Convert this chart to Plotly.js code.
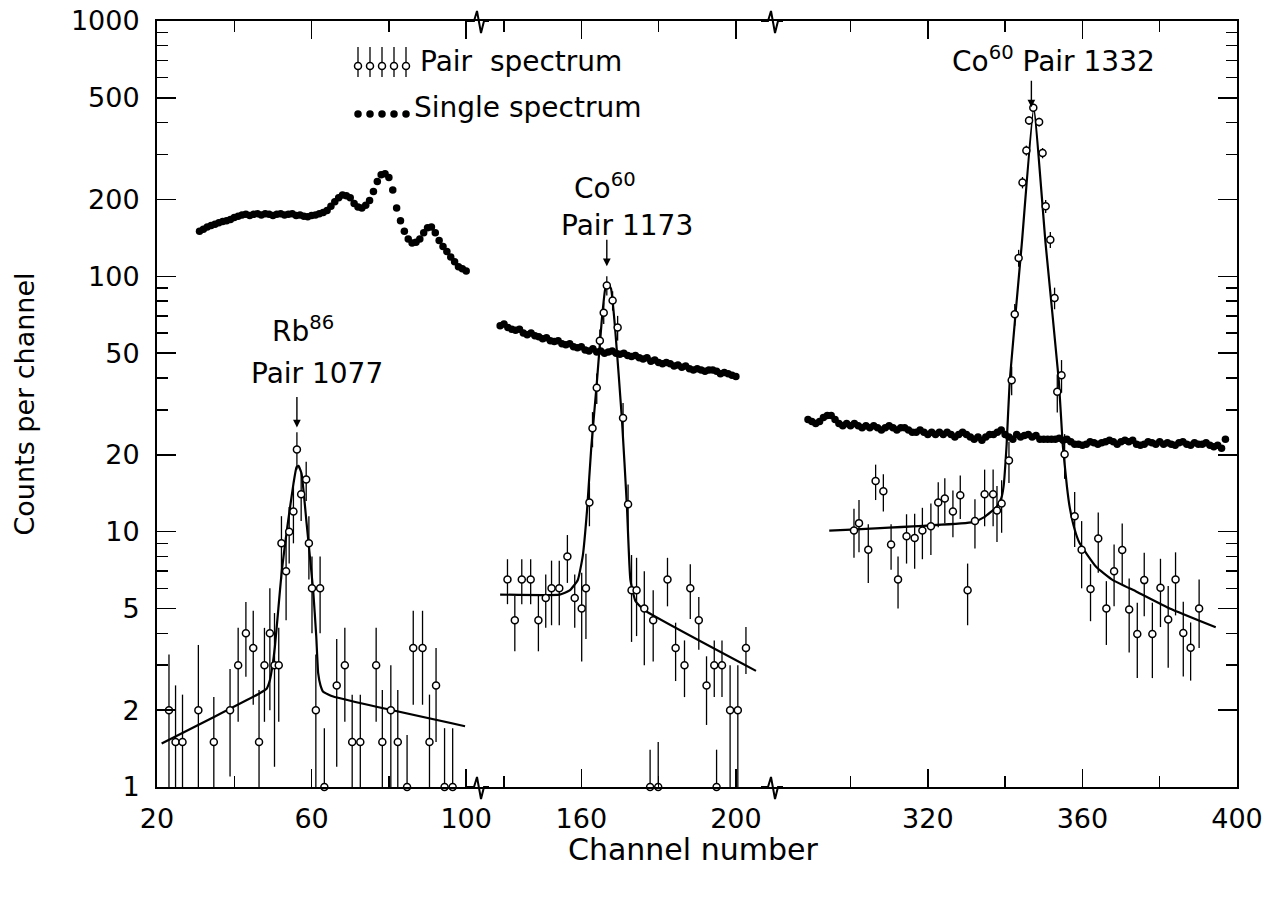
<!DOCTYPE html>
<html><head><meta charset="utf-8">
<script src="https://cdn.plot.ly/plotly-3.0.1.min.js"></script>
<style>html,body{margin:0;padding:0;background:#fff;} #chart{width:1286px;height:898px;}</style>
</head><body><div id="chart"></div>
<script>
// ---------------- DATA ----------------
// Panel 1 (Rb86, pair 1077)
const rbPairX = [23.1,24.8,26.6,30.7,34.7,38.9,41.0,43.0,44.9,46.4,47.8,49.2,50.4,51.5,52.2,53.4,54.2,55.3,56.2,57.3,58.6,59.3,60.1,61.1,62.2,66.5,68.6,70.5,72.6,76.7,78.3,80.5,82.3,86.3,88.7,90.5,92.2];
const rbPairY = [2.0,1.5,1.5,2.0,1.5,2.0,3.0,4.0,3.5,1.5,3.0,4.0,3.0,3.0,9.0,7.0,10.0,12.0,21.0,14.0,16.0,9.0,6.0,2.0,6.0,2.5,3.0,1.5,1.5,3.0,1.5,2.0,1.5,3.5,3.5,1.5,2.5];
const rbPairErr = [1.3,1.0,0.8,1.6,0.75,0.9,1.2,1.3,1.4,0.9,1.2,2.0,1.8,1.2,2.5,2.5,2.5,3.0,3.5,3.0,2.8,2.5,2.0,1.3,2.0,1.3,1.2,0.8,0.8,1.2,0.9,1.0,0.9,1.4,1.4,0.8,1.0];
const rbFloorX = [63.3,84.7,94.4,96.5];
const rbFloorY = [1,1,1,1];
const rbFloorErr = [0.7,0.6,0.7,0.7];
const rbFitX = [21.2,35,46.6,48.3,49.2,49.9,50.5,51.4,52.3,53.7,55.3,56.1,56.6,57.4,58.7,60.4,61.2,61.7,62.3,63.0,65.6,99.7];
const rbFitY = [1.48,1.89,2.33,2.42,2.62,3.0,3.54,5.0,7.06,10.4,15.4,17.9,18.1,16.9,10.8,5.9,3.9,2.79,2.5,2.36,2.26,1.73];
const rbSingleStart = 31;
const rbSingleY = [150,153,156,158,160,162,164,165,167,170,
  172,174,175,173,175,176,174,176,175,173,
  175,176,174,175,176,173,174,172,171,173,
  174,176,178,181,188,196,203,208,207,203,
  193,187,185,190,198,215,235,250,252,244,
  218,185,165,150,140,135,136,140,148,155,
  156,148,138,131,125,119,114,109,107,105];

// Panel 2 (Co60, pair 1173)
const coAPairX = [140.9,142.8,144.6,146.9,148.9,150.8,152.3,154.3,156.4,158.3,160.1,161.2,162.1,162.9,164.0,164.8,165.8,166.6,168.1,169.4,170.8,172.1,173.0,174.3,176.3,178.6,182.3,184.4,186.7,188.2,190.4,192.4,194.4,196.4,198.5,200.5,202.6];
const coAPairY = [6.5,4.5,6.5,6.5,4.5,5.5,6.0,6.0,8.0,5.5,5.0,6.0,13.0,25.4,36.6,55.9,72.0,92.1,80.4,63.0,27.9,12.8,5.9,5.9,5.0,4.5,6.5,3.5,3.0,6.0,4.5,2.5,3.0,3.0,2.0,2.0,3.5];
const coAPairErr = [1.3,1.1,1.3,1.3,1.1,1.3,1.7,1.7,1.7,1.3,1.9,2.2,2.5,4,5,6,7,8,7,7,4,2.5,2.2,2.0,2.0,1.4,1.4,0.9,0.75,1.45,1.05,0.75,0.75,0.75,1.0,1.0,0.73];
const coAFloorX = [177.8,179.9,195.0];
const coAFloorY = [1,1,1];
const coAFloorErr = [0.4,0.5,0.4];
const coAFitX = [139.0,154.4,157.0,159.1,160.4,161.5,162.6,164.0,165.3,166.2,166.9,167.7,168.8,170.5,171.8,172.7,174.0,176.1,205.2];
const coAFitY = [5.67,5.67,5.89,6.47,8.08,12.2,21.6,38,67.4,89.4,93.7,89.4,61.2,27.7,12.6,6.47,5.35,4.95,2.85];
const coASingleStart = 139;
const coASingleY = [64,65,63,62,61.5,62,60,59,60,58.5,
  58,57,57.5,56,55.5,56,54.5,54,54.5,53,
  52.5,53,51.5,51,52,50.5,51,50,50.5,51,
  50,49.5,50,49,48.5,49,48,47.5,48,46.5,
  47,46,45.5,46,45.5,44.5,45,44,44.5,43.5,
  43,43.5,43,42.5,43,43,42.5,41.5,42,41.5,
  41,40.5];

// Panel 3 (Co60, pair 1332)
const coBPairX = [300.9,302.2,304.6,306.5,308.5,310.5,312.3,314.5,316.6,318.6,320.8,322.7,324.4,326.5,328.4,330.3,332.2,334.7,336.9,337.9,339.1,341.0,341.7,342.5,343.5,344.5,345.5,346.2,347.3,348.8,349.7,350.5,351.7,352.8,353.5,354.6,355.4,358.0,359.8,362.1,364.1,366.2,368.2,370.3,372.1,374.2,376.0,378.1,380.2,382.2,384.1,386.1,388.0,390.2];
const coBPairY = [10.1,10.8,8.5,15.8,14.4,8.9,6.5,9.6,9.45,10.1,10.5,13.0,13.5,12.0,13.9,5.9,11.0,14.0,14.0,12.1,12.9,19.0,39.2,71,118,233,311,408,457,402,304,188,139,82.3,35.3,41,20.1,11.5,8.5,5.96,9.4,5.0,7.0,8.47,4.96,3.97,6.46,3.97,6.03,4.53,6.5,4.01,3.51,5.0];
const coBPairErr = [2.2,2.5,2.2,2.5,2.4,1.8,1.5,2.1,2.3,2.3,2.4,2.6,2.7,2.5,2.7,1.6,2.4,3.5,3.5,3.0,3.0,3.5,5,7,9,12,14,16,17,16,14,11,10,8,6,6,4,2.8,2.5,1.5,2.5,1.4,1.9,2.3,1.6,1.3,1.8,1.3,1.8,1.6,1.8,1.3,0.9,1.5];
const coBFitX = [294.5,331.7,334.6,337.8,339.0,339.6,340.4,341.2,344.3,347.4,350.5,353.9,354.9,356.0,356.7,358.0,359.3,363.6,367.9,374.0,382.6,394.5];
const coBFitY = [10.1,10.9,11.4,12.5,13.5,15,22,39,133,455,133,39,22,15,12.5,10.2,9.0,7.27,6.46,5.82,5.0,4.22];
const coBSingleStart = 289;
const coBSingleY = [27.5,27,26.5,27,28,28.5,28.5,27.5,26.5,26,
  26.5,26,26.5,26,25.5,26,25.5,26,25.5,25,
  25.5,26,25.5,25,25.5,25.5,25,24.5,24.5,25,
  24.5,24,24.5,24,24.5,24,24.5,24,23.5,24,
  24.5,24,23.5,23,23.5,22.8,23.5,24,24,24.5,
  25,24,23.5,23,24,23.5,23.8,24,23.5,23.8,
  23,23,23,23,23,23.2,22.8,23,22.5,22,
  22,21.8,22,22.5,22.3,22,22.3,22.5,22.8,22.5,
  22,22.5,22.8,22.5,22.8,22,21.8,22,22.5,22.3,
  22,22.5,22,22.3,22,21.8,22.3,22.5,22,21.8,
  22.3,22,22,22.3,21.8,21.5,21.8,21.2,23];

// Axis ticks
const yMajor = [1,2,5,10,20,50,100,200,500,1000];
const yMajorText = ['1','2','5','10','20','50','100','200','500','1000'];
const yMinor = [3,4,6,7,8,9,30,40,60,70,80,90,300,400,600,700,800,900];
const x1Major = [20,60,100], x1Minor = [40,80];
const x2Major = [160,200], x2Minor = [140,180];
const x3Major = [320,360,400], x3Minor = [300,340,380];

// Legend samples
const legendX = [1,2,3,4,5];
const legendPairY = [0.739,0.739,0.739,0.739,0.739];
const legendSingleY = [0.169,0.169,0.169,0.169,0.169];

// Annotation texts
const labels = {
  rb: 'Rb<sup>86</sup>', rbPair: 'Pair 1077',
  coA: 'Co<sup>60</sup>', coAPair: 'Pair 1173',
  coB: 'Co<sup>60</sup> Pair 1332',
  pairLeg: 'Pair  spectrum', singleLeg: 'Single spectrum',
  xTitle: 'Channel number', yTitle: 'Counts per channel'
};

// ---------------- BUILD ----------------
const FONT = 'DejaVu Sans, sans-serif';
const seq = (start, arr) => arr.map((_, i) => start + i);

const fitLine = {color:'black', width:2.2, shape:'spline', smoothing:0.4};
const pairMarker = {symbol:'circle', size:7, color:'white', line:{color:'black', width:1.5}};
const singleMarker = {symbol:'circle', size:7.5, color:'black'};
const errStyle = (arr) => ({type:'data', array:arr, visible:true, color:'black', thickness:1.3, width:0});
const errUpOnly = (arr) => ({type:'data', symmetric:false, array:arr, arrayminus:arr.map(()=>0), visible:true, color:'black', thickness:1.3, width:0});

const traces = [
  {x:rbFitX, y:rbFitY, xaxis:'x', yaxis:'y', mode:'lines', line:fitLine},
  {x:coAFitX, y:coAFitY, xaxis:'x2', yaxis:'y', mode:'lines', line:fitLine},
  {x:coBFitX, y:coBFitY, xaxis:'x3', yaxis:'y', mode:'lines', line:fitLine},
  {x:seq(rbSingleStart, rbSingleY), y:rbSingleY, xaxis:'x', yaxis:'y', mode:'markers', marker:singleMarker},
  {x:seq(coASingleStart, coASingleY), y:coASingleY, xaxis:'x2', yaxis:'y', mode:'markers', marker:singleMarker},
  {x:seq(coBSingleStart, coBSingleY), y:coBSingleY, xaxis:'x3', yaxis:'y', mode:'markers', marker:singleMarker},
  {x:rbPairX, y:rbPairY, xaxis:'x', yaxis:'y', mode:'markers', marker:pairMarker, error_y:errStyle(rbPairErr)},
  {x:coAPairX, y:coAPairY, xaxis:'x2', yaxis:'y', mode:'markers', marker:pairMarker, error_y:errStyle(coAPairErr)},
  {x:coBPairX, y:coBPairY, xaxis:'x3', yaxis:'y', mode:'markers', marker:pairMarker, error_y:errStyle(coBPairErr)},
  {x:rbFloorX, y:rbFloorY, xaxis:'x', yaxis:'y', mode:'markers', marker:pairMarker, error_y:errUpOnly(rbFloorErr), cliponaxis:false},
  {x:coAFloorX, y:coAFloorY, xaxis:'x2', yaxis:'y', mode:'markers', marker:pairMarker, error_y:errUpOnly(coAFloorErr), cliponaxis:false},
  {x:legendX, y:legendPairY, xaxis:'x4', yaxis:'y3', mode:'markers', marker:pairMarker,
   error_y:{type:'constant', symmetric:false, value:0.225, valueminus:0.13, color:'black', thickness:1.3, width:0}},
  {x:legendX, y:legendSingleY, xaxis:'x4', yaxis:'y3', mode:'markers', marker:singleMarker},
  {x:[], y:[], xaxis:'x3', yaxis:'y2', mode:'markers'}
];

const L = 157, R = 49, T = 21, B = 111, W = 1286, H = 898;
const plotW = W - L - R, plotH = H - T - B;
const px2fx = (p) => (p - L) / plotW;
const px2fy = (p) => (H - B - p) / plotH;
const brk1 = px2fx(477), brk2 = px2fx(771);

const tickFont = {family:FONT, size:27, color:'black'};
function xAxis(range, domain, major, minor) {
  return {domain:domain, range:range, type:'linear', anchor:'y', showline:true, linecolor:'black', linewidth:2,
    mirror:'ticks', ticks:'inside', ticklen:18, tickwidth:1.5, tickcolor:'black',
    tickmode:'array', tickvals:major, ticktext:major.map(String), showgrid:false, zeroline:false,
    tickfont:tickFont, ticklabelstandoff:7, fixedrange:true,
    minor:{tickmode:'array', tickvals:minor, ticks:'inside', ticklen:11, tickwidth:1.5, tickcolor:'black', showgrid:false}};
}
const yCommon = {type:'log', range:[0,3], showline:true, linecolor:'black', linewidth:2,
  ticks:'inside', ticklen:19, tickwidth:1.5, tickcolor:'black', tickmode:'array', tickvals:yMajor,
  showgrid:false, zeroline:false, fixedrange:true,
  minor:{tickmode:'array', tickvals:yMinor, ticks:'inside', ticklen:11, tickwidth:1.5, tickcolor:'black', showgrid:false}};

function brk(xf, yf) {
  return {type:'path', xref:'paper', yref:'paper', xsizemode:'pixel', ysizemode:'pixel', xanchor:xf, yanchor:yf,
    path:'M -10,0 L -3,0 L 0,10 L 4,-12 L 7,0 L 12,0', line:{color:'black', width:2}};
}
const txtFont = {family:FONT, size:28, color:'black'};
const arrow = (xref, x, yv, ay) => ({xref:xref, yref:'y', x:x, y:Math.log10(yv), ax:0, ay:ay, text:'', showarrow:true,
  arrowhead:2, arrowsize:1.1, arrowwidth:1.4, arrowcolor:'black', standoff:0});
const label = (text, pxX, pxY, anchor) => ({xref:'paper', yref:'paper', x:px2fx(pxX), y:px2fy(pxY), text:text,
  showarrow:false, xanchor:anchor || 'center', yanchor:'middle', font:txtFont});

const layout = {
  width:W, height:H, paper_bgcolor:'white', plot_bgcolor:'rgba(0,0,0,0)', showlegend:false,
  margin:{l:L, r:R, t:T, b:B, pad:0},
  font:{family:FONT, color:'black'},
  xaxis: xAxis([20, 20 + (477 - L) / 3.865], [0, brk1], x1Major, x1Minor),
  xaxis2: xAxis([140 - (504 - 477) / 3.865, 140 + (771 - 504) / 3.865], [brk1, brk2], x2Major, x2Minor),
  xaxis3: xAxis([400 - (W - R - 771) / 3.865, 400], [brk2, 1], x3Major, x3Minor),
  yaxis: Object.assign({}, yCommon, {domain:[0,1], anchor:'x', side:'left', ticktext:yMajorText,
    tickfont:tickFont, ticklabelstandoff:10,
    title:{text:labels.yTitle, font:{family:FONT, size:27, color:'black'}, standoff:28}}),
  yaxis2: Object.assign({}, yCommon, {overlaying:'y', anchor:'x3', side:'right', showticklabels:false}),
  xaxis4: {domain:[px2fx(352), px2fx(412)], range:[0.5,5.5], visible:false, anchor:'y3', fixedrange:true},
  yaxis3: {domain:[0.86,0.97], range:[0,1], visible:false, anchor:'x4', fixedrange:true},
  shapes:[brk(brk1,0), brk(brk1,1), brk(brk2,0), brk(brk2,1)],
  annotations:[
    label(labels.rb, 303, 330), label(labels.rbPair, 317, 373),
    label(labels.coA, 605, 187), label(labels.coAPair, 627, 225),
    label(labels.coB, 1053, 60),
    label(labels.pairLeg, 418, 62, 'left'), label(labels.singleLeg, 412, 108, 'left'),
    Object.assign(label(labels.xTitle, 693, 850), {font:{family:FONT, size:30, color:'black'}}),
    arrow('x', 56.2, 25.6, -32),
    arrow('x2', 166.6, 109.6, -28),
    arrow('x3', 346.8, 459, -28)
  ]
};

Plotly.newPlot('chart', traces, layout, {staticPlot:true, displayModeBar:false});
</script></body></html>
